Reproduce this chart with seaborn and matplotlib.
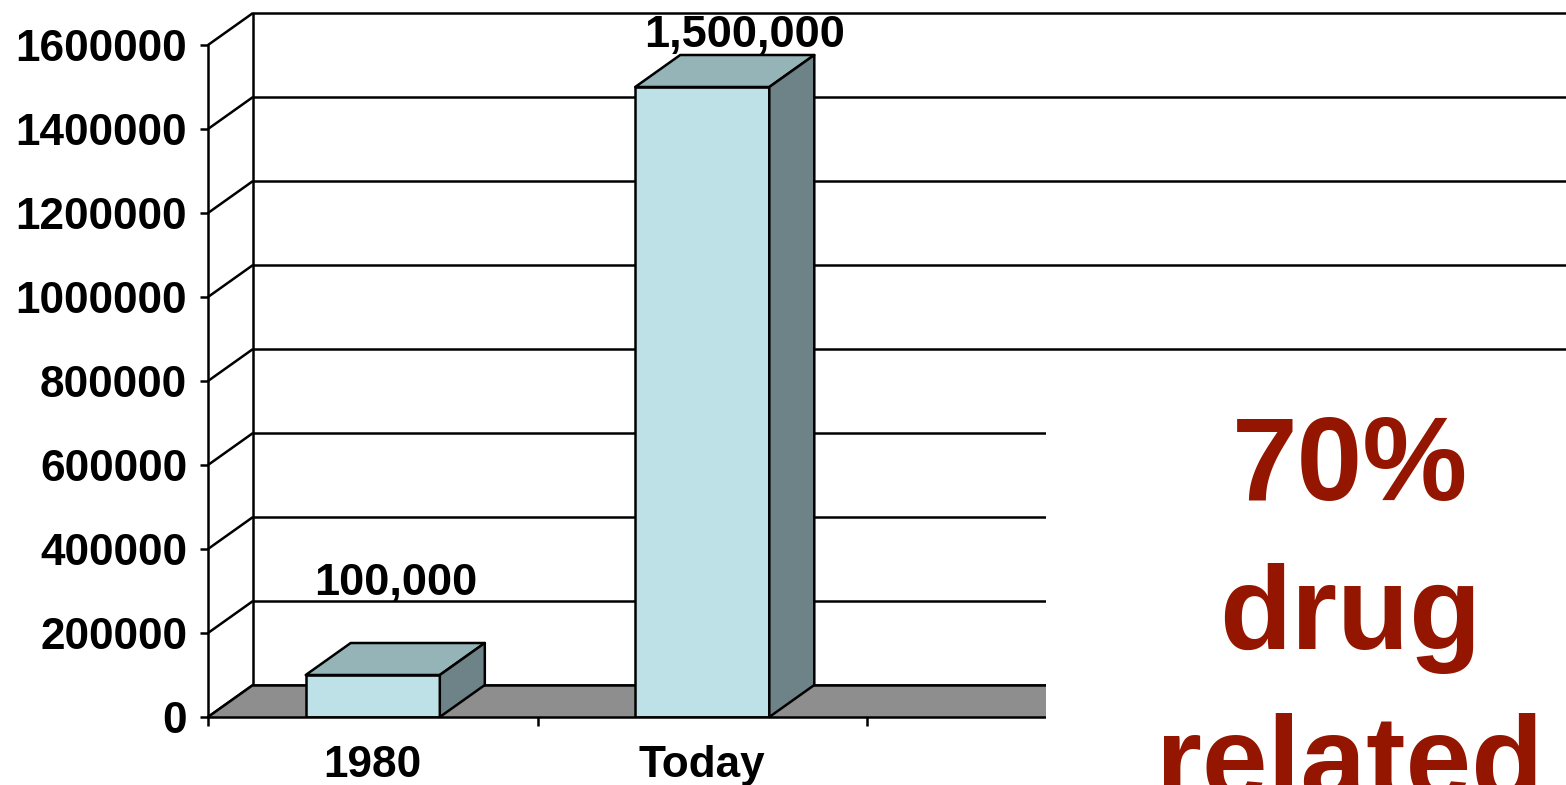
import matplotlib
matplotlib.use("Agg")
import matplotlib.pyplot as plt
import seaborn as sns
from matplotlib.patches import Polygon, Rectangle
from matplotlib.ticker import FuncFormatter

# ---- data ----
categories = ["1980", "Today"]
values = [100000, 1500000]
value_labels = ["100,000", "1,500,000"]
y_ticks = [0, 200000, 400000, 600000, 800000, 1000000, 1200000, 1400000, 1600000]
side_text = ["70%", "drug", "related"]

# ---- style ----
sns.set_style("white")
plt.rcParams["font.family"] = ["Liberation Sans", "DejaVu Sans"]
plt.rcParams["font.weight"] = "bold"
plt.rcParams["text.color"] = "black"
plt.rcParams["xtick.color"] = "black"
plt.rcParams["ytick.color"] = "black"

FRONT = "#BDE1E6"
TOP = "#94B4B8"
SIDE = "#6E8387"
FLOOR = "#8E8E8E"
RED = "#941600"
LW = 1.8

W, H = 1566, 785
fig = plt.figure(figsize=(W / 100, H / 100), dpi=100)
ax = fig.add_axes([208 / W, 68 / H, 988.5 / W, 672 / H])

sns.barplot(x=categories, y=values, width=0.407, color=FRONT, saturation=1,
            edgecolor="black", linewidth=LW, ax=ax, zorder=3)
ax.set_xlim(-0.5, 2.5)
ax.set_ylim(0, y_ticks[-1])
ax.set_xlabel("")
ax.set_ylabel("")

# depth offset (pixels -> data units)
inv = ax.transData.inverted()
p0 = ax.transData.transform((0, 0))
dx, dy = inv.transform((p0[0] + 45, p0[1] + 32)) - inv.transform(p0)

# spines / ticks
for s in ["top", "right"]:
    ax.spines[s].set_visible(False)
for s in ["left", "bottom"]:
    ax.spines[s].set_linewidth(LW)
    ax.spines[s].set_color("black")
    ax.spines[s].set_zorder(4)

ax.set_yticks(y_ticks)
ax.yaxis.set_major_formatter(FuncFormatter(lambda v, p: f"{int(v)}"))
ax.tick_params(axis="y", which="major", length=6, width=LW, direction="out",
               pad=9, labelsize=31.8, left=True, colors="black")
ax.set_xticks([0, 1])
ax.set_xticklabels(categories)
ax.set_xticks([-0.5, 0.5, 1.5], minor=True)
ax.tick_params(axis="x", which="major", length=0, pad=20, labelsize=31.8,
               colors="black")
ax.tick_params(axis="x", which="minor", length=6.5, width=LW, direction="out",
               bottom=True, colors="black")
for lab in ax.get_xticklabels() + ax.get_yticklabels():
    lab.set_fontweight("bold")
    lab.set_color("black")

x_left, x_right = ax.get_xlim()

# left wall + back wall gridlines
for v in y_ticks:
    ax.plot([x_left, x_left + dx], [v, v + dy], color="black", lw=LW, zorder=1,
            clip_on=False, solid_capstyle="butt")
    ax.plot([x_left + dx, x_right + 10], [v + dy, v + dy], color="black", lw=LW,
            zorder=1, clip_on=False, solid_capstyle="butt")
ax.plot([x_left + dx, x_left + dx], [dy, y_ticks[-1] + dy], color="black", lw=LW,
        zorder=1, clip_on=False)

# floor
floor = Polygon([(x_left, 0), (x_right, 0), (x_right + dx, dy), (x_left + dx, dy)],
                closed=True, facecolor=FLOOR, edgecolor="none", zorder=1.5, clip_on=False)
ax.add_patch(floor)
ax.plot([x_left + dx, x_right + dx], [dy, dy], color="black", lw=LW, zorder=1.6,
        clip_on=False)
ax.plot([x_left, x_left + dx], [0, dy], color="black", lw=LW, zorder=1.6, clip_on=False)

# 3-D faces + labels
bars = [p for p in ax.patches if isinstance(p, Rectangle) and p is not floor][:len(values)]
for bar, lab in zip(bars, value_labels):
    x0 = bar.get_x()
    x1 = x0 + bar.get_width()
    h = bar.get_height()
    top = Polygon([(x0, h), (x1, h), (x1 + dx, h + dy), (x0 + dx, h + dy)], closed=True,
                  facecolor=TOP, edgecolor="black", lw=LW, zorder=3, clip_on=False,
                  joinstyle="round")
    side = Polygon([(x1, 0), (x1, h), (x1 + dx, h + dy), (x1 + dx, dy)], closed=True,
                   facecolor=SIDE, edgecolor="black", lw=LW, zorder=3, clip_on=False,
                   joinstyle="round")
    ax.add_patch(top)
    ax.add_patch(side)
    cx = (x0 + x1) / 2 + dx / 2
    disp = ax.transData.transform((cx, h + dy))
    base_y = min(disp[1] + 48, H - 15 - 32)
    # labels pushed down at the top edge also shift right, as in the original
    x_shift = 20 if base_y < disp[1] + 48 else 0
    fig.text((disp[0] + x_shift) / W, base_y / H, lab, ha="center", va="baseline",
             fontsize=32.5, fontweight="bold", color="black", zorder=6)

# white text box on the right
fig.add_artist(Rectangle((1046 / W, 0), (W - 1046) / W, (H - 395) / H,
                         transform=fig.transFigure, facecolor="white",
                         edgecolor="none", zorder=5))
for txt, yb in zip(side_text, [500, 649, 799]):
    fig.text(1350 / W, (H - yb) / H, txt, ha="center", va="baseline",
             fontsize=85, fontweight="bold", color=RED, zorder=6)

fig.savefig("out.png", dpi=100)
